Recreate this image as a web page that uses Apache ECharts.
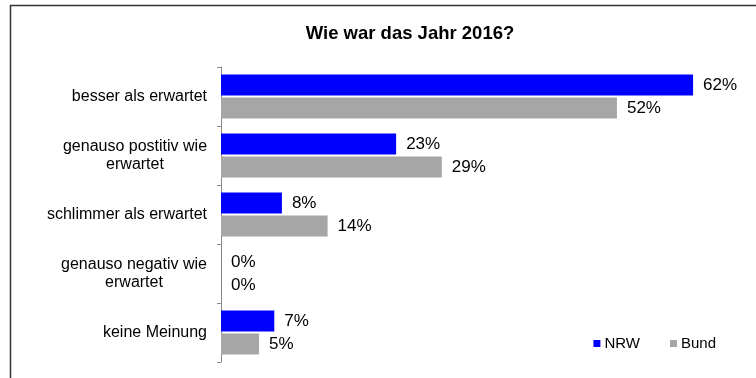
<!DOCTYPE html>
<html><head><meta charset="utf-8">
<script src="https://cdn.jsdelivr.net/npm/echarts@6/dist/echarts.min.js"></script>
<style>html,body{margin:0;padding:0;background:#fff}#c{width:756px;height:378px}</style>
</head><body><div id="c"></div>
<script>
const categories = ["besser als erwartet", "genauso postitiv wie\nerwartet", "schlimmer als erwartet", "genauso negativ wie\nerwartet", "keine Meinung"];
const nrw = [62, 23, 8, 0, 7];
const bund = [52, 29, 14, 0, 5];
const seriesNames = ["NRW", "Bund"];
const titleText = "Wie war das Jahr 2016?";

const chart = echarts.init(document.getElementById('c'), null, {renderer: 'canvas'});
const font = 'Liberation Sans, Arial, sans-serif';
const catFontSize = 16;
const ctx = document.createElement('canvas').getContext('2d');
ctx.font = catFontSize + 'px ' + font;
const catData = categories.map(function (c) {
  const lines = c.split('\n');
  if (lines.length < 2) return c;
  const w = Math.max.apply(null, lines.map(function (l) { return ctx.measureText(l).width; }));
  return {value: c, textStyle: {align: 'center', padding: [0, Math.round(w), 0, 0]}};
});
const lbl = {show: true, position: 'right', distance: 10, formatter: '{c}%', fontSize: 17, color: '#000', fontFamily: font};
chart.setOption({
  animation: false,
  title: {text: titleText, left: 405, top: 19, textAlign: 'center',
    textStyle: {fontSize: 18.5, fontWeight: 'bold', color: '#000', fontFamily: font}},
  legend: {right: 35, top: 331, itemWidth: 7, itemHeight: 7, itemGap: 30, icon: 'rect',
    textStyle: {fontSize: 15, color: '#000', fontFamily: font, padding: [0, 0, 0, -1]}, data: seriesNames},
  grid: {left: 221, right: 2, top: 67, bottom: 16, containLabel: false},
  xAxis: {type: 'value', min: 0, max: 70, show: false},
  yAxis: {type: 'category', inverse: true, data: catData,
    axisLine: {show: true, lineStyle: {color: '#888', width: 1}},
    axisTick: {show: true, length: 4, lineStyle: {color: '#888'}},
    axisLabel: {fontSize: catFontSize, color: '#000', fontFamily: font, margin: 14, align: 'right', lineHeight: 18}},
  series: [
    {name: seriesNames[0], type: 'bar', data: nrw, barWidth: 21, barGap: '10%', itemStyle: {color: '#0000FF'}, label: lbl},
    {name: seriesNames[1], type: 'bar', data: bund, barWidth: 21, itemStyle: {color: '#A6A6A6'}, label: lbl}
  ],
  graphic: [
    {type: 'polyline', shape: {points: [[10.5, 378], [10.5, 5.5], [756, 5.5]]}, style: {stroke: '#333', lineWidth: 1.5, fill: null}}
  ]
});
</script></body></html>
